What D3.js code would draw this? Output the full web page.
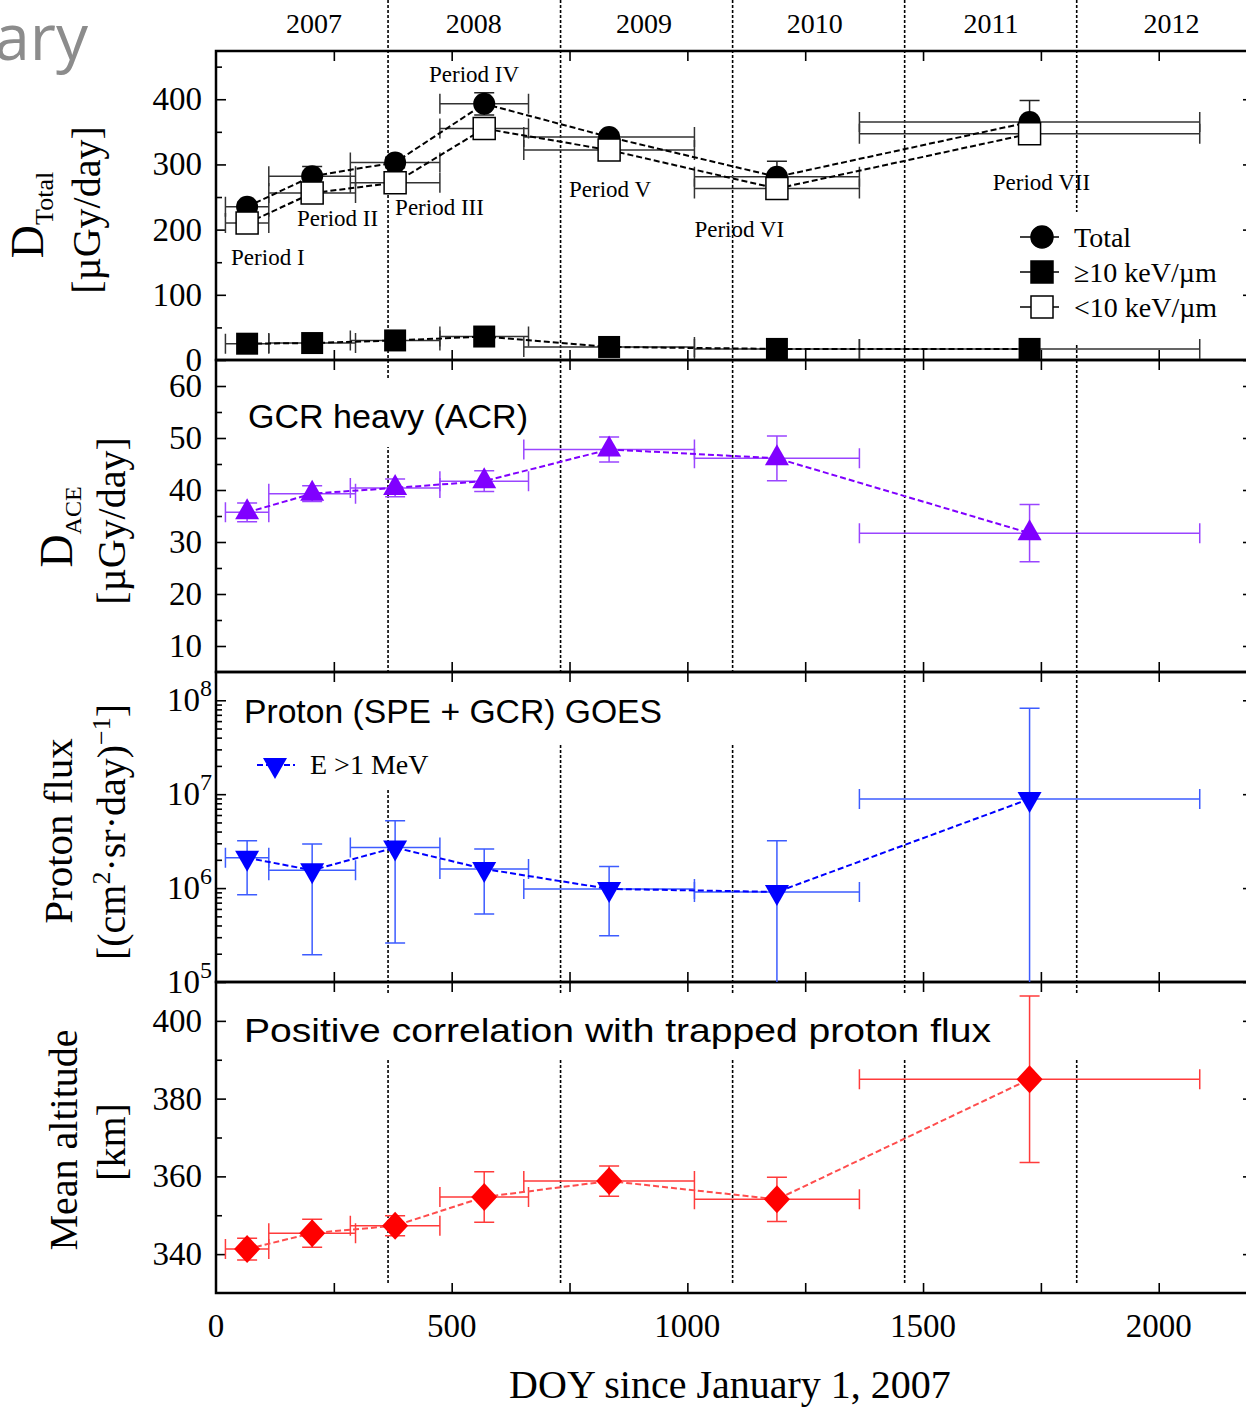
<!DOCTYPE html>
<html>
<head>
<meta charset="utf-8">
<script src="https://cdnjs.cloudflare.com/ajax/libs/d3/7.8.5/d3.min.js"></script>
<style>
	body { margin: 0; background: #fff; }
	svg { display: block; }
</style>
</head>
<body>
<div id="chart"></div>
<script>
// ----------------------------------------
// DATA

// measurement periods, DOY since January 1, 2007 (centre and half width)
var periodNames = ["Period I", "Period II", "Period III", "Period IV", "Period V", "Period VI", "Period VII"];
var periodDoy = [66, 204, 380, 569, 834, 1190, 1726];
var periodHalf = [46, 92, 95, 94, 181, 175, 361];

// absorbed dose [µGy/day]
var doseTotal = [235, 282, 303, 393, 342, 281, 365];
var doseTotalErr = [7, 15, 8, 17, 7, 24, 33];
var doseLow = [210, 256, 272, 355, 322, 263, 347];     // <10 keV/µm
var doseLowErr = [5, 6, 6, 8, 6, 8, 10];
var doseHigh = [25, 26, 30, 36, 20, 17, 17];           // >=10 keV/µm

// GCR heavy (ACR), D_ACE [µGy/day]
var doseAce = [35.7, 39.3, 40.4, 41.7, 47.8, 46.1, 31.7];
var doseAceErr = [1.8, 1.5, 1.7, 2.0, 2.4, 4.3, 5.5];

// GOES proton flux E > 1 MeV [(cm2 sr day)^-1], 0 = lower bound below axis
var protonFlux = [2.1e6, 1.55e6, 2.7e6, 1.6e6, 9.8e5, 9.1e5, 8.9e6];
var protonHi = [3.2e6, 2.95e6, 5.2e6, 2.6e6, 1.7e6, 3.2e6, 8.2e7];
var protonLo = [8.5e5, 1.95e5, 2.6e5, 5.3e5, 3.1e5, 0, 0];

// mean altitude [km]
var altitude = [341.3, 345.4, 347.3, 354.7, 358.8, 354.1, 385.0];
var altitudeErr = [2.8, 3.6, 2.6, 6.5, 3.9, 5.7, 21.4];

// calendar
var years = ["2007", "2008", "2009", "2010", "2011", "2012"];
var yearLabelDoy = [208, 547, 908, 1270, 1644, 2027];
var yearStartDoy = [365, 731, 1096, 1461, 1826];

// period annotations, placed in [DOY, dose] coordinates
var periodLabelAt = [[32, 146], [172, 205], [380, 222], [452, 426], [749, 250], [1015, 189], [1648, 261]];

// axis ticks
var xTicks = [250, 500, 750, 1000, 1250, 1500, 1750, 2000];
var xLabels = [0, 500, 1000, 1500, 2000];

// ----------------------------------------
// SETUP

var width = 1246;
var height = 1407;
var serif = "'Liberation Serif', 'Times New Roman', serif";
var sans = "'Liberation Sans', Arial, sans-serif";

var svg = d3.select("#chart").append("svg")
	.attr("width", width)
	.attr("height", height);

var x = d3.scaleLinear().domain([0, 2200]).range([216, 1253]);

var yDose = d3.scaleLinear().domain([0, 474]).range([360, 51]);
var yAce = d3.scaleLinear().domain([5, 65]).range([672, 360]);
var yFlux = d3.scaleLog().domain([1e5, 2e8]).range([982, 672]);
var yAlt = d3.scaleLinear().domain([330, 410]).range([1293, 982]);

var idx = d3.range(periodDoy.length);

// marker shapes
var shapes = {
	circle: d3.symbol(d3.symbolCircle, Math.PI * 11 * 11)(),
	square: d3.symbol(d3.symbolSquare, 22 * 22)(),
	up: "M0,-14L12,7L-12,7Z",
	down: "M0,14L12,-7L-12,-7Z",
	diamond: "M0,-14L13,0L0,14L-13,0Z"
};

// ----------------------------------------
// BACKGROUND: slide title remnant, year lines

svg.append("text")
	.attr("x", 88).attr("y", 60)
	.attr("text-anchor", "end")
	.attr("font-family", "'Open Sans', sans-serif")
	.attr("font-size", 64)
	.attr("fill", "#8c8c8c")
	.text("ary");

svg.append("g").selectAll("line")
	.data(yearStartDoy).enter().append("line")
	.attr("x1", function (d) { return x(d); })
	.attr("x2", function (d) { return x(d); })
	.attr("y1", 0)
	.attr("y2", 1285)
	.attr("stroke", "#000")
	.attr("stroke-width", 1.6)
	.attr("stroke-dasharray", "3,2");

// boxes behind the panel titles and legends
var boxes = [[1010, 212, 240, 133], [240, 380, 300, 67], [235, 674, 510, 69], [250, 743, 190, 45], [235, 993, 860, 67]];
svg.append("g").selectAll("rect")
	.data(boxes).enter().append("rect")
	.attr("x", function (d) { return d[0]; })
	.attr("y", function (d) { return d[1]; })
	.attr("width", function (d) { return d[2]; })
	.attr("height", function (d) { return d[3]; })
	.attr("fill", "#fff");

// ----------------------------------------
// FRAMES AND AXES

function drawFrame(yScale, major, minor, fmt, pad) {
	var r = yScale.range();
	var top = r[1], bottom = r[0];
	var g = svg.append("g");

	g.append("g").attr("transform", "translate(0," + bottom + ")")
		.call(d3.axisBottom(x).tickValues(xTicks).tickSize(-10).tickFormat(""));
	g.append("g").attr("transform", "translate(0," + top + ")")
		.call(d3.axisTop(x).tickValues(xTicks).tickSize(-10).tickFormat(""));

	var left = g.append("g").attr("transform", "translate(" + x(0) + ",0)")
		.call(d3.axisLeft(yScale).tickValues(major).tickSize(-10).tickPadding(pad).tickFormat(fmt));
	g.append("g").attr("transform", "translate(" + x(0) + ",0)")
		.call(d3.axisLeft(yScale).tickValues(minor).tickSize(-6).tickFormat(""));
	g.append("g").attr("transform", "translate(" + x(2200) + ",0)")
		.call(d3.axisRight(yScale).tickValues(major).tickSize(-10).tickFormat(""));
	g.append("g").attr("transform", "translate(" + x(2200) + ",0)")
		.call(d3.axisRight(yScale).tickValues(minor).tickSize(-6).tickFormat(""));

	g.selectAll(".domain").remove();
	g.selectAll(".tick line").attr("stroke", "#000").attr("stroke-width", 1.6);
	left.selectAll("text")
		.attr("font-family", serif)
		.attr("font-size", 33)
		.attr("fill", "#000");

	g.append("rect")
		.attr("x", x(0)).attr("y", top)
		.attr("width", x(2200) - x(0))
		.attr("height", bottom - top)
		.attr("fill", "none")
		.attr("stroke", "#000")
		.attr("stroke-width", 2.5);
	return left;
}

drawFrame(yDose, [0, 100, 200, 300, 400], [50, 150, 250, 350, 450], d3.format("d"), 14);
drawFrame(yAce, [10, 20, 30, 40, 50, 60], [15, 25, 35, 45, 55], d3.format("d"), 14);
var logMinor = [];
[1e5, 1e6, 1e7].forEach(function (p) {
	for (var k = 2; k <= 9; k++) logMinor.push(k * p);
});
var fluxAxis = drawFrame(yFlux, [1e5, 1e6, 1e7, 1e8], logMinor, function () { return "10"; }, 4);
fluxAxis.selectAll(".tick text").append("tspan")
	.attr("dy", -15)
	.attr("font-size", 24)
	.text(function (d) { return Math.round(Math.log10(d)); });
drawFrame(yAlt, [340, 360, 380, 400], [350, 370, 390], d3.format("d"), 14);

// ----------------------------------------
// TEXT

// year labels
svg.append("g").selectAll("text")
	.data(years).enter().append("text")
	.attr("x", function (d, i) { return x(yearLabelDoy[i]); })
	.attr("y", 33)
	.attr("text-anchor", "middle")
	.attr("font-family", serif)
	.attr("font-size", 28)
	.text(function (d) { return d; });

// x tick labels and title
svg.append("g").selectAll("text")
	.data(xLabels).enter().append("text")
	.attr("x", function (d) { return x(d); })
	.attr("y", 1337)
	.attr("text-anchor", "middle")
	.attr("font-family", serif)
	.attr("font-size", 33)
	.text(function (d) { return d; });

svg.append("text")
	.attr("x", 730).attr("y", 1398)
	.attr("text-anchor", "middle")
	.attr("font-family", serif)
	.attr("font-size", 40)
	.text("DOY since January 1, 2007");

// rotated y titles
function yTitle(px, py, size) {
	return svg.append("text")
		.attr("transform", "translate(" + px + "," + py + ") rotate(-90)")
		.attr("text-anchor", "middle")
		.attr("font-family", serif)
		.attr("font-size", size);
}

var t1 = yTitle(43, 215, 46).text("D");
t1.append("tspan").attr("font-size", 26).attr("dy", 10).text("Total");
yTitle(100, 210, 40).text("[µGy/day]");

var t2 = yTitle(72, 527, 46).text("D");
t2.append("tspan").attr("font-size", 24).attr("dy", 9).text("ACE");
yTitle(125, 521, 40).text("[µGy/day]");

yTitle(72, 831, 41).text("Proton flux");
var t3 = yTitle(125, 832, 40).text("[(cm");
t3.append("tspan").attr("font-size", 26).attr("dy", -15).text("2");
t3.append("tspan").attr("dy", 15).text("·sr·day)");
t3.append("tspan").attr("font-size", 26).attr("dy", -15).text("−1");
t3.append("tspan").attr("dy", 15).text("]");

yTitle(77, 1140, 40).text("Mean altitude");
yTitle(125, 1142, 40).text("[km]");

// panel titles (text, left, baseline, width)
var titles = [
	["GCR heavy (ACR)", 248, 428, 280],
	["Proton (SPE + GCR) GOES", 244, 723, 418],
	["Positive correlation with trapped proton flux", 244, 1042, 747]
];
svg.append("g").selectAll("text")
	.data(titles).enter().append("text")
	.attr("x", function (d) { return d[1]; })
	.attr("y", function (d) { return d[2]; })
	.attr("textLength", function (d) { return d[3]; })
	.attr("lengthAdjust", "spacingAndGlyphs")
	.attr("font-family", sans)
	.attr("font-size", 34)
	.text(function (d) { return d[0]; });

// period annotations
svg.append("g").selectAll("text")
	.data(periodNames).enter().append("text")
	.attr("x", function (d, i) { return x(periodLabelAt[i][0]); })
	.attr("y", function (d, i) { return yDose(periodLabelAt[i][1]); })
	.attr("font-family", serif)
	.attr("font-size", 23)
	.text(function (d) { return d; });

// ----------------------------------------
// DATA LAYERS

function xBars(g, vals, yScale, color) {
	g.append("g").selectAll("path")
		.data(idx).enter().append("path")
		.attr("d", function (i) {
			var y = yScale(vals[i]);
			var x0 = x(periodDoy[i] - periodHalf[i]);
			var x1 = x(periodDoy[i] + periodHalf[i]);
			return "M" + x0 + "," + y + "H" + x1 +
				"M" + x0 + "," + (y - 10) + "V" + (y + 10) +
				"M" + x1 + "," + (y - 10) + "V" + (y + 10);
		})
		.attr("fill", "none")
		.attr("stroke", color)
		.attr("stroke-width", 1.5);
}

function yBars(g, lo, hi, yScale, color) {
	g.append("g").selectAll("path")
		.data(idx).enter().append("path")
		.attr("d", function (i) {
			var xc = x(periodDoy[i]);
			var yTop = yScale(hi[i]);
			var p = "M" + xc + "," + yTop + "V";
			if (lo[i] > 0) {
				var yBot = yScale(lo[i]);
				p += yBot + "M" + (xc - 10) + "," + yBot + "H" + (xc + 10);
			} else {
				p += yScale.range()[0];
			}
			return p + "M" + (xc - 10) + "," + yTop + "H" + (xc + 10);
		})
		.attr("fill", "none")
		.attr("stroke", color)
		.attr("stroke-width", 1.5);
}

function dashed(g, vals, yScale, color) {
	var line = d3.line()
		.x(function (i) { return x(periodDoy[i]); })
		.y(function (i) { return yScale(vals[i]); });
	g.append("path")
		.attr("d", line(idx))
		.attr("fill", "none")
		.attr("stroke", color)
		.attr("stroke-width", 2)
		.attr("stroke-dasharray", "6,3");
}

function markers(g, vals, yScale, shape, fill, stroke) {
	g.append("g").selectAll("path")
		.data(idx).enter().append("path")
		.attr("transform", function (i) { return "translate(" + x(periodDoy[i]) + "," + yScale(vals[i]) + ")"; })
		.attr("d", shapes[shape])
		.attr("fill", fill)
		.attr("stroke", stroke || "none")
		.attr("stroke-width", 1.5);
}

function plusMinus(vals, errs, sign) {
	return vals.map(function (v, i) { return v + sign * errs[i]; });
}

// top panel: dose
var g1 = svg.append("g");
xBars(g1, doseTotal, yDose, "#333");
xBars(g1, doseLow, yDose, "#333");
xBars(g1, doseHigh, yDose, "#333");
yBars(g1, plusMinus(doseTotal, doseTotalErr, -1), plusMinus(doseTotal, doseTotalErr, 1), yDose, "#222");
yBars(g1, plusMinus(doseLow, doseLowErr, -1), plusMinus(doseLow, doseLowErr, 1), yDose, "#222");
dashed(g1, doseTotal, yDose, "#000");
dashed(g1, doseLow, yDose, "#000");
dashed(g1, doseHigh, yDose, "#000");
markers(g1, doseTotal, yDose, "circle", "#000");
markers(g1, doseLow, yDose, "square", "#fff", "#000");
markers(g1, doseHigh, yDose, "square", "#000");

// ACE panel
var g2 = svg.append("g");
xBars(g2, doseAce, yAce, "#9a45ff");
yBars(g2, plusMinus(doseAce, doseAceErr, -1), plusMinus(doseAce, doseAceErr, 1), yAce, "#9a45ff");
dashed(g2, doseAce, yAce, "#8000ff");
markers(g2, doseAce, yAce, "up", "#8000ff");

// proton panel
var g3 = svg.append("g");
xBars(g3, protonFlux, yFlux, "#3d5cff");
yBars(g3, protonLo, protonHi, yFlux, "#3d5cff");
dashed(g3, protonFlux, yFlux, "#0000ff");
markers(g3, protonFlux, yFlux, "down", "#0000ff");

// altitude panel
var g4 = svg.append("g");
xBars(g4, altitude, yAlt, "#ff3b3b");
yBars(g4, plusMinus(altitude, altitudeErr, -1), plusMinus(altitude, altitudeErr, 1), yAlt, "#ff3b3b");
dashed(g4, altitude, yAlt, "#ff4d4d");
markers(g4, altitude, yAlt, "diamond", "#ff0000");

// ----------------------------------------
// LEGENDS

var legendNames = ["Total", "≥10 keV/µm", "<10 keV/µm"];
var legendShapes = ["circle", "square", "square"];
var legendFills = ["#000", "#000", "#fff"];
var leg = svg.append("g").selectAll("g")
	.data(legendNames).enter().append("g")
	.attr("transform", function (d, i) { return "translate(1042," + (237 + i * 35) + ")"; });
leg.append("line")
	.attr("x1", -22).attr("x2", 17)
	.attr("stroke", "#000").attr("stroke-width", 1.5);
leg.append("path")
	.attr("d", function (d, i) { return shapes[legendShapes[i]]; })
	.attr("fill", function (d, i) { return legendFills[i]; })
	.attr("stroke", "#000").attr("stroke-width", 1.5);
leg.append("text")
	.attr("x", 32).attr("y", 10)
	.attr("font-family", serif)
	.attr("font-size", 28)
	.text(function (d) { return d; });

var leg3 = svg.append("g").attr("transform", "translate(275,765)");
leg3.append("line")
	.attr("x1", -18).attr("x2", 20)
	.attr("stroke", "#0000ff").attr("stroke-width", 2).attr("stroke-dasharray", "6,3");
leg3.append("path").attr("d", shapes.down).attr("fill", "#0000ff");
leg3.append("text")
	.attr("x", 35).attr("y", 9)
	.attr("font-family", serif)
	.attr("font-size", 28)
	.text("E >1 MeV");
</script>
</body>
</html>
